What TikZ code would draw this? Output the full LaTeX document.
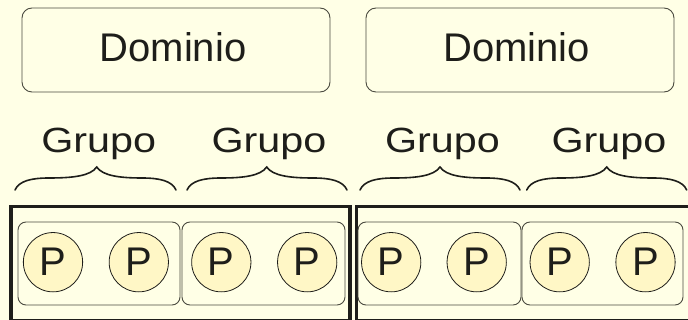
\documentclass[tikz,border=0pt]{standalone}
\usepackage{fontspec}
\setmainfont{Liberation Sans}
\definecolor{bg}{HTML}{FFFFE6}
\definecolor{pfill}{HTML}{FFF7C6}
\definecolor{ink}{HTML}{1E1E1A}
\definecolor{thin}{HTML}{4A4A40}
\tikzset{
  dombox/.style={draw=thin, line width=0.9pt, rounded corners=10pt, fill=bg, minimum width=308pt, minimum height=84pt, inner sep=0pt},
  domtext/.style={font=\fontsize{40}{48}\selectfont, text=ink, anchor=base, inner sep=0pt},
  gruptext/.style={font=\fontsize{35}{42}\selectfont, text=ink, anchor=base, inner sep=0pt},
  grpbox/.style={draw=thin, line width=0.9pt, rounded corners=8pt, minimum height=83pt, inner sep=0pt},
  pnode/.style={circle, draw=ink, line width=0.8pt, fill=pfill, minimum size=59.3pt, inner sep=0pt, font=\fontsize{40}{48}\selectfont, text=ink},
  frame/.style={draw=ink, line width=3.6pt},
  bracestyle/.style={draw=ink, line width=1.6pt, line cap=round}
}
\newcommand\mybrace[3]{%
  \draw[bracestyle] (#1,190) .. controls (#1+4,181) and (#1+16,178) .. (#1+34,178)
    .. controls (#2-24,178) and (#2-6,176) .. (#2,167)
    .. controls (#2+6,176) and (#2+24,178) .. (#3-34,178)
    .. controls (#3-16,178) and (#3-4,181) .. (#3,190);}
\begin{document}
\begin{tikzpicture}[x=1pt,y=-1pt]
\fill[bg] (0,0) rectangle (688,320);
\useasboundingbox (0,0) rectangle (688,320);
\clip (0,0) rectangle (688,320);

% Dominio boxes
\node[dombox] (dom1) at (176,50) {};
\node[dombox] (dom2) at (520,50) {};
\node[domtext] (domt1) at (173,61.7) {Dominio};
\node[domtext] (domt2) at (516.6,61.7) {Dominio};

% Grupo labels
\node[gruptext] (g1) at (98.7,152.4) {\scalebox{1.18}[1]{Grupo}};
\node[gruptext] (g2) at (269,152.4) {\scalebox{1.18}[1]{Grupo}};
\node[gruptext] (g3) at (442.5,152.4) {\scalebox{1.18}[1]{Grupo}};
\node[gruptext] (g4) at (609,152.4) {\scalebox{1.18}[1]{Grupo}};

% braces
\mybrace{15}{96.7}{176}
\mybrace{187}{266.7}{347}
\mybrace{360}{440}{520}
\mybrace{526.7}{606.7}{686.7}

% thick frames
\draw[frame] (11,206.5) rectangle (350,320.5);
\draw[frame] (356.3,206.5) rectangle (700,320.5);

% group boxes
\node[grpbox, minimum width=162pt] (gb1) at (99,263.5) {};
\node[grpbox, minimum width=163pt] (gb2) at (263.5,263.5) {};
\node[grpbox, minimum width=163pt] (gb3) at (439.5,263.5) {};
\node[grpbox, minimum width=161pt] (gb4) at (602.5,263.5) {};

% processes
\node[pnode] (p1) at (53,262.2) {P};
\node[pnode] (p2) at (138.8,262.2) {P};
\node[pnode] (p3) at (221.3,262.2) {P};
\node[pnode] (p4) at (307.2,262.2) {P};
\node[pnode] (p5) at (391.2,262.2) {P};
\node[pnode] (p6) at (476.7,262.2) {P};
\node[pnode] (p7) at (559.7,262.2) {P};
\node[pnode] (p8) at (645.5,262.2) {P};
\end{tikzpicture}
\end{document}
